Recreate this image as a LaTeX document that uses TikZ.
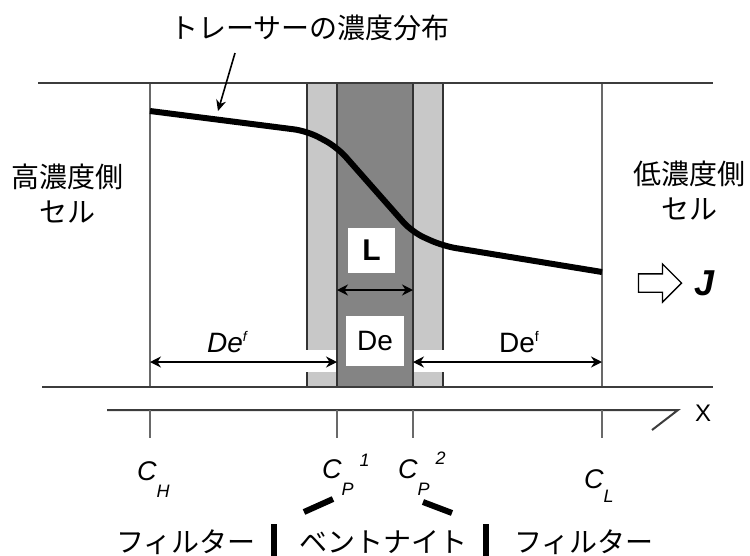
\documentclass[tikz,border=0pt]{standalone}
\usepackage{fontspec}
\setmainfont{Liberation Sans}
\newfontfamily\jpfont{Noto Sans CJK JP}
\usetikzlibrary{arrows.meta,shapes.arrows,positioning}
\definecolor{filtergray}{RGB}{200,200,200}
\definecolor{bentgray}{RGB}{132,132,132}
\definecolor{walldark}{RGB}{60,60,60}
\definecolor{cellgray}{RGB}{105,105,105}
\tikzset{
    % Walls of the cells and the clay/filter layers
    wall/.style={line width=2pt, walldark},
    cellwall/.style={line width=2pt, cellgray},
    bandedge/.style={line width=1.3pt, black!80},
    % Concentration profile
    profile/.style={line width=6pt, rounded corners=13pt},
    % Arrows
    dimarrow/.style={{Stealth[length=11pt,width=11pt]}-{Stealth[length=11pt,width=11pt]}, line width=1.6pt},
    pointer/.style={-{Stealth[length=11pt,width=10pt]}, line width=1.6pt},
    fluxarrow/.style={single arrow, draw, line width=1.3pt, fill=white,
        inner sep=8.5pt, single arrow head extend=10pt,
        single arrow tip angle=90, minimum height=43pt},
    % Text
    jplabel/.style={font=\jpfont\fontsize{28}{35}\selectfont, inner sep=0pt, align=center},
    valbox/.style={fill=white, inner sep=0pt},
    conclabel/.style={anchor=base west, inner sep=0pt, font=\fontsize{27}{27}\selectfont\itshape},
    % Axis
    axisline/.style={line width=2pt, walldark},
    axistick/.style={line width=1.8pt, cellgray},
    barstroke/.style={line width=6pt},
}
\newcommand{\subsz}{\fontsize{18}{18}\selectfont}

\begin{document}
\begin{tikzpicture}[x=1pt,y=-1pt]
    \useasboundingbox (0,0) rectangle (750,555);
    % filter and bentonite layers
    \fill[filtergray] (307,83) rectangle (443,387);
    \fill[bentgray] (337,83) rectangle (413,387);
    \fill[white] (307,350) rectangle (337,372);
    \fill[white] (413,350) rectangle (443,372);
    \foreach \x in {307,443}{\draw[bandedge] (\x,83) -- (\x,350) (\x,372) -- (\x,387);}
    \foreach \x in {337,413}{\draw[bandedge] (\x,83) -- (\x,387);}
    \foreach \x in {150,602}{\draw[cellwall] (\x,83) -- (\x,387);}
    \draw[wall] (38,83) -- (713,83);
    \draw[wall] (42,387) -- (713,387);
    % tracer concentration profile
    \draw[profile] (150,111) -- (307,131) -- (337,147) -- (412,232) -- (443,246) -- (602,272);
    \node[jplabel] (tracerlabel) at (310,28) {トレーサーの濃度分布};
    \coordinate (tracertail) at (235,53);
    \coordinate (tracerhead) at (218,111);
    \draw[pointer] (tracertail) -- (tracerhead);
    % cells
    \node[jplabel] (highcell) at (68,194) {高濃度側\\セル};
    \node[jplabel] (lowcell) at (689,191) {低濃度側\\セル};
    \node[fluxarrow] (fluxarr) at (655.5,283) {};
    \node[right=12pt of fluxarr, inner sep=0pt, font=\fontsize{36}{36}\selectfont\bfseries\itshape] (flux) {J};
    % L and diffusion coefficients
    \node[valbox, minimum width=47pt, minimum height=45pt, font=\fontsize{30}{30}\selectfont\bfseries] (lbox) at (371.5,250.5) {L};
    \node[valbox, minimum width=58pt, minimum height=50pt, font=\fontsize{28}{28}\selectfont] (debox) at (375,341) {De};
    \coordinate (l1) at (337,290);
    \coordinate (l2) at (413,290);
    \draw[dimarrow] (l1) -- (l2);
    \coordinate (dH) at (150,362);
    \coordinate (dP1) at (337,362);
    \coordinate (dP2) at (413,362);
    \coordinate (dL) at (602,362);
    \draw[dimarrow] (dH) -- (dP1);
    \draw[dimarrow] (dP2) -- (dL);
    \node[conclabel, font=\fontsize{28}{28}\selectfont\itshape] (defl) at (207,352) {De\raisebox{11pt}{\fontsize{14}{14}\selectfont f}};
    \node[conclabel, font=\fontsize{28}{28}\selectfont] (defr) at (499,352) {De\raisebox{11pt}{\fontsize{14}{14}\selectfont f}};
    % x axis
    \coordinate (axstart) at (107,410);
    \coordinate (axend) at (678,410);
    \coordinate (axslant) at (652,430);
    \draw[axisline] (axstart) -- (axend) -- (axslant);
    \node[inner sep=0pt, font=\fontsize{24}{24}\selectfont] (xlabel) at (703,413) {X};
    \foreach \x in {150,337,413,602}{\draw[axistick] (\x,410) -- (\x,438);}
    \node[conclabel] (ch) at (137,480) {C\raisebox{-17pt}{\subsz H}};
    \node[conclabel] (cp1) at (322,478) {C\rlap{\raisebox{-17pt}{\subsz P}}\hspace{18pt}\raisebox{12pt}{\subsz 1}};
    \node[conclabel] (cp2) at (398,478) {C\rlap{\raisebox{-17pt}{\subsz P}}\hspace{18pt}\raisebox{14pt}{\subsz 2}};
    \node[conclabel] (cl) at (584,488) {C\raisebox{-14pt}{\subsz L}};
    % layers
    \draw[barstroke] (304,512) -- (333,499);
    \draw[barstroke] (423,502) -- (452,513);
    \draw[barstroke] (274,524) -- (274,560);
    \draw[barstroke] (486,524) -- (486,560);
    \node[jplabel] (filterl) at (186,542) {フィルター};
    \node[jplabel] (bentonite) at (383,542) {ベントナイト};
    \node[jplabel] (filterr) at (584,542) {フィルター};
\end{tikzpicture}
\end{document}
